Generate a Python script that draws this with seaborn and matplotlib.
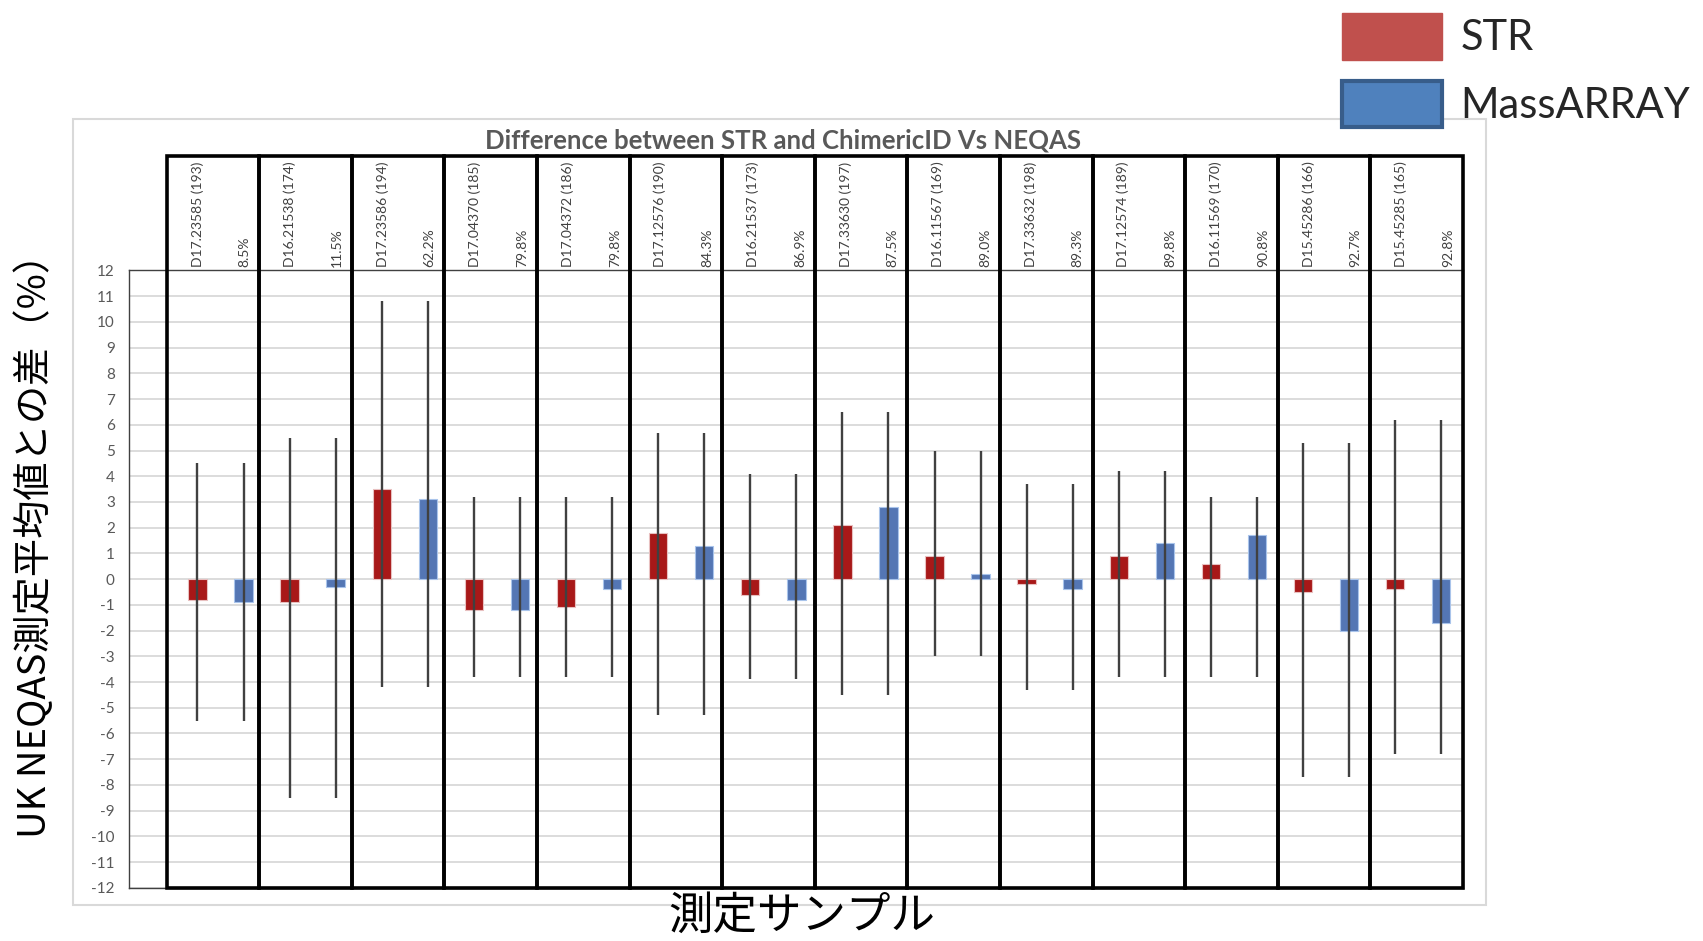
import numpy as np
import pandas as pd
import matplotlib
matplotlib.use("Agg")
import matplotlib.pyplot as plt
from matplotlib.patches import Rectangle, Patch
import seaborn as sns

# data
samples = ["D17.23585 (193)", "D16.21538 (174)", "D17.23586 (194)", "D17.04370 (185)",
           "D17.04372 (186)", "D17.12576 (190)", "D16.21537 (173)", "D17.33630 (197)",
           "D16.11567 (169)", "D17.33632 (198)", "D17.12574 (189)", "D16.11569 (170)",
           "D15.45286 (166)", "D15.45285 (165)"]
chimerism = ["8.5%", "11.5%", "62.2%", "79.8%", "79.8%", "84.3%", "86.9%",
             "87.5%", "89.0%", "89.3%", "89.8%", "90.8%", "92.7%", "92.8%"]
str_diff = [-0.8, -0.9, 3.5, -1.2, -1.1, 1.8, -0.6, 2.1, 0.9, -0.2, 0.9, 0.6, -0.5, -0.4]
mass_diff = [-0.9, -0.3, 3.1, -1.2, -0.4, 1.3, -0.8, 2.8, 0.2, -0.4, 1.4, 1.7, -2.0, -1.7]
range_high = [4.5, 5.5, 10.8, 3.2, 3.2, 5.7, 4.1, 6.5, 5.0, 3.7, 4.2, 3.2, 5.3, 6.2]
range_low = [-5.5, -8.5, -4.2, -3.8, -3.8, -5.3, -3.9, -4.5, -3.0, -4.3, -3.8, -3.8, -7.7, -6.8]
methods = ["STR", "MassARRAY"]
y_ticks = list(range(-12, 13))

df = pd.DataFrame({
    "sample": samples * 2,
    "method": ["STR"] * len(samples) + ["MassARRAY"] * len(samples),
    "value": str_diff + mass_diff,
})

sns.set_theme(style="white")
plt.rcParams["font.family"] = ["Lato", "Noto Sans CJK JP", "DejaVu Sans"]
JP = ["Noto Sans CJK JP", "DejaVu Sans"]
NARROW = ["Liberation Sans Narrow", "Lato", "DejaVu Sans"]

fig = plt.figure(figsize=(17.03, 9.41), dpi=100)
ax = fig.add_axes([0.0756, 0.0565, 0.7834, 0.6561])

# light grey chart-area border
fig.patches.append(Rectangle((0.043, 0.038), 0.8295, 0.8356, transform=fig.transFigure,
                             fill=False, edgecolor="#D9D9D9", lw=1.5, zorder=0))

sns.barplot(data=df, x="sample", y="value", hue="method", hue_order=methods,
            palette={"STR": "#C00000", "MassARRAY": "#4472C4"},
            width=1.0, gap=0.6, errorbar=None, legend=False, ax=ax,
            edgecolor="#E8C0C0", linewidth=0.8, zorder=3)
for p in ax.patches:
    if p.get_facecolor()[2] > 0.5:
        p.set_edgecolor("#A9C4EB")

# range whiskers (same range for both methods)
xs = np.arange(len(samples))
ax.vlines(xs - 0.25, range_low, range_high, color="#404040", lw=1.7, zorder=4)
ax.vlines(xs + 0.25, range_low, range_high, color="#404040", lw=1.7, zorder=4)

ax.set_ylim(-12, 12)
ax.set_xlim(-0.996, 13.485)
ax.set_yticks(y_ticks)
ax.set_yticklabels([str(t) for t in y_ticks], color="#595959", fontsize=11)
ax.tick_params(axis="y", length=0, pad=10)
ax.set_xticks([])
ax.set_xlabel("")
ax.set_ylabel("")
ax.grid(axis="y", color="#D9D9D9", lw=1.3, zorder=0)
ax.set_axisbelow(True)
for s in ax.spines.values():
    s.set_color("#404040")
    s.set_linewidth(1.0)

# black boxes per sample, with header labels above the plot
box_left0 = -0.584
box_w = 1.005
box_top = 16.44
for i, (name, pct) in enumerate(zip(samples, chimerism)):
    x0 = box_left0 + i * box_w
    ax.add_patch(Rectangle((x0, -12), box_w, box_top + 12, fill=False,
                           edgecolor="black", lw=2.6, clip_on=False, zorder=6))
    ax.text(x0 + 0.33 * box_w, 12.15, name, rotation=90, ha="center", va="bottom",
            fontsize=10, color="#404040", family=NARROW, clip_on=False)
    ax.text(x0 + 0.84 * box_w, 12.15, pct, rotation=90, ha="center", va="bottom",
            fontsize=10, color="#404040", family=NARROW, clip_on=False)

fig.text(0.46, 0.8505, "Difference between STR and ChimericID Vs NEQAS", ha="center",
         va="center", fontsize=18.5, fontweight="bold", color="#595959")

fig.text(0.0205, 0.43, "UK NEQAS測定平均値との差（%）", rotation=90, ha="center",
         va="center", fontsize=27.5, family=JP, color="black")
fig.text(0.471, 0.027, "測定サンプル", ha="center", va="center", fontsize=32,
         family=JP, color="black")

handles = [Patch(facecolor="#C0504D", edgecolor="#C0504D", lw=1),
           Patch(facecolor="#4F81BD", edgecolor="#385D8A", lw=3)]
fig.legend(handles, methods, loc="upper left", bbox_to_anchor=(0.778, 1.004),
           frameon=False, fontsize=30, handlelength=2.4, handleheight=1.35,
           handletextpad=0.45, labelspacing=0.5, borderaxespad=0)

fig.savefig("out.png", dpi=100)
